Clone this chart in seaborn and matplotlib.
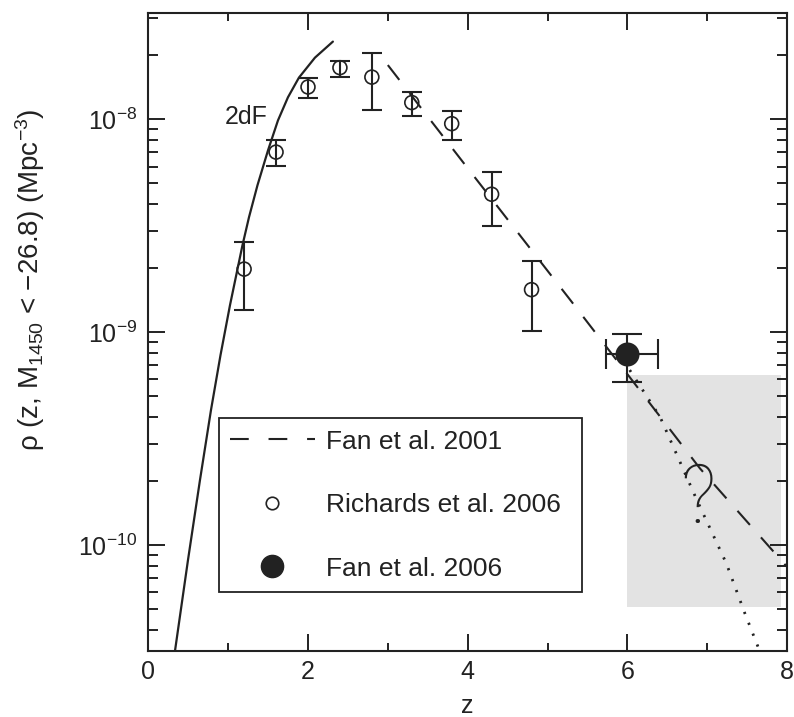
import numpy as np
import pandas as pd
import matplotlib
matplotlib.use("Agg")
import matplotlib.pyplot as plt
import seaborn as sns
from matplotlib.lines import Line2D
from matplotlib.ticker import NullFormatter, FixedLocator

# ---------------- data ----------------
# 2dF model curve
z_2df = [0.334, 0.497, 0.647, 0.785, 0.904, 1.023, 1.179, 1.261, 1.367, 1.499, 1.624,
         1.749, 1.886, 2.087, 2.312]
rho_2df = [3.18e-11, 8.51e-11, 2.02e-10, 4.31e-10, 7.80e-10, 1.34e-9, 2.56e-9, 3.47e-9,
           4.90e-9, 7.15e-9, 9.89e-9, 1.27e-8, 1.57e-8, 1.95e-8, 2.32e-8]

# Fan et al. 2001 (dashed)
z_fan01 = [3.0, 3.97, 5.29, 6.91, 8.0]
rho_fan01 = [1.80e-8, 6.1e-9, 1.41e-9, 2.29e-10, 7.9e-11]

# dotted extrapolation
z_dot = [6.03, 6.41, 6.87, 7.24, 7.47, 7.66]
rho_dot = [6.64e-10, 4.0e-10, 1.63e-10, 8.2e-11, 4.8e-11, 3.16e-11]

# Richards et al. 2006 (open circles)
z_rich = [1.2, 1.6, 2.0, 2.4, 2.8, 3.3, 3.8, 4.3, 4.8]
rho_rich = [1.98e-9, 7.02e-9, 1.42e-8, 1.75e-8, 1.58e-8, 1.20e-8, 9.55e-9, 4.45e-9, 1.585e-9]
rho_rich_hi = [2.65e-9, 8.03e-9, 1.57e-8, 1.89e-8, 2.05e-8, 1.35e-8, 1.10e-8, 5.66e-9, 2.15e-9]
rho_rich_lo = [1.27e-9, 6.04e-9, 1.26e-8, 1.58e-8, 1.11e-8, 1.04e-8, 7.97e-9, 3.16e-9, 1.01e-9]

# Fan et al. 2006 (filled circle)
z_fan06 = [6.0]
rho_fan06 = [7.94e-10]
z_fan06_lo = [5.73]
z_fan06_hi = [6.38]
rho_fan06_lo = [5.85e-10]
rho_fan06_hi = [9.86e-10]

# shaded region
box_z = [6.0, 7.93]
box_rho = [5.13e-11, 6.28e-10]

legend_labels = ["Fan et al. 2001", "Richards et al. 2006", "Fan et al. 2006"]
x_major = [0, 2, 4, 6, 8]
x_minor = [1, 3, 5, 7]

# ---------------- style ----------------
sns.set_theme(style="ticks")
plt.rcParams["font.family"] = ["Liberation Sans", "DejaVu Sans"]
plt.rcParams["mathtext.fontset"] = "custom"
plt.rcParams["mathtext.rm"] = "Liberation Sans"
plt.rcParams["mathtext.it"] = "Liberation Sans:italic"
plt.rcParams["mathtext.default"] = "regular"

INK = "#222222"
FS = 18

fig = plt.figure(figsize=(7.94, 7.17), dpi=100)
ax = fig.add_axes([0.1868, 0.0914, 0.8044, 0.8905])

# shaded box
ax.fill_between(box_z, [box_rho[0]] * 2, [box_rho[1]] * 2, color="#e3e3e3", lw=0, zorder=0.5)

# curves
df_2df = pd.DataFrame({"z": z_2df, "rho": rho_2df})
sns.lineplot(data=df_2df, x="z", y="rho", ax=ax, color=INK, lw=1.6, sort=False,
             estimator=None, zorder=2)
df_f01 = pd.DataFrame({"z": z_fan01, "rho": rho_fan01})
sns.lineplot(data=df_f01, x="z", y="rho", ax=ax, color=INK, lw=1.5, sort=False,
             estimator=None, linestyle=(0, (9, 8)), zorder=2)
df_dot = pd.DataFrame({"z": z_dot, "rho": rho_dot})
sns.lineplot(data=df_dot, x="z", y="rho", ax=ax, color=INK, lw=2.0, sort=False,
             estimator=None, linestyle=(0, (0.8, 3.4)), zorder=2)

# Richards error bars + markers
r = np.array(rho_rich)
ax.errorbar(z_rich, r, yerr=[r - np.array(rho_rich_lo), np.array(rho_rich_hi) - r],
            fmt="none", ecolor=INK, elinewidth=1.5, capsize=7.3, capthick=1.5, zorder=3)
sns.scatterplot(x=z_rich, y=rho_rich, ax=ax, marker="o", s=100, facecolors="none",
                edgecolor=INK, linewidth=1.2, zorder=4)

# Fan 2006
f = np.array(rho_fan06)
zf = np.array(z_fan06)
ax.errorbar(zf, f, yerr=[f - np.array(rho_fan06_lo), np.array(rho_fan06_hi) - f],
            xerr=[zf - np.array(z_fan06_lo), np.array(z_fan06_hi) - zf],
            fmt="none", ecolor=INK, elinewidth=1.5, capsize=10.5, capthick=1.5, zorder=3)
sns.scatterplot(x=z_fan06, y=rho_fan06, ax=ax, marker="o", s=300, color=INK,
                edgecolor=INK, linewidth=0, zorder=4)

# annotations
ax.text(1.22, 1.03e-8, "2dF", ha="center", va="center", fontsize=FS, color=INK)
ax.text(6.88, 1.62e-10, "?", ha="center", va="center", fontsize=58, color=INK,
        family=["Roboto", "DejaVu Sans"], fontweight=100)

# axes
ax.set_yscale("log")
ax.set_xlim(0, 8)
ax.set_ylim(10 ** -10.5, 10 ** -7.5)
ax.xaxis.set_major_locator(FixedLocator(x_major))
ax.xaxis.set_minor_locator(FixedLocator(x_minor))
ax.yaxis.set_minor_formatter(NullFormatter())
ax.tick_params(which="both", direction="in", top=True, right=True, colors=INK,
               width=1.4, labelsize=FS, labelcolor=INK)
ax.tick_params(which="major", length=12)
ax.tick_params(axis="x", which="minor", length=6)
ax.tick_params(axis="y", which="minor", length=7)
ax.tick_params(axis="x", which="major", pad=6)
ax.tick_params(axis="y", which="major", pad=8)
for s in ax.spines.values():
    s.set_linewidth(1.5)
    s.set_color(INK)

ax.set_xlabel("z", fontsize=FS, color=INK, labelpad=7)
ax.set_ylabel(r"$\rho$ (z, M$_{1450}$ < −26.8) (Mpc$^{-3}$)", fontsize=20, color=INK)
ax.yaxis.set_label_coords(-0.158, 0.582)

# legend
h1 = Line2D([], [], color=INK, lw=1.5, linestyle=(0, (9, 9.5)))
h2 = Line2D([], [], ls="none", marker="o", ms=9, mfc="white", mec=INK, mew=1.2)
h3 = Line2D([], [], ls="none", marker="o", ms=16, mfc=INK, mec=INK)
leg = ax.legend([h1, h2, h3], legend_labels, loc="upper left",
                bbox_to_anchor=(0.1107, 0.094, 0.5683, 0.271), mode="expand",
                frameon=True, fancybox=False,
                edgecolor=INK, framealpha=1, fontsize=19, handlelength=3.2,
                handletextpad=0.45, labelspacing=1.5, borderpad=0.42,
                borderaxespad=0)
leg.get_frame().set_linewidth(1.3)
for t in leg.get_texts():
    t.set_color(INK)

fig.savefig("out.png", dpi=100)
